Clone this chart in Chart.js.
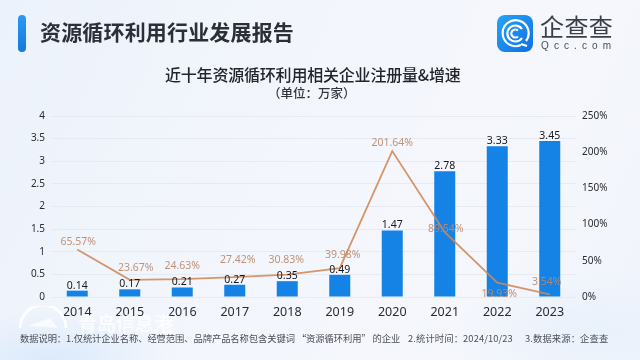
<!DOCTYPE html>
<html lang="zh"><head><meta charset="utf-8">
<script src="https://cdn.jsdelivr.net/npm/chart.js@4"></script>
<style>
html,body{margin:0;padding:0;width:640px;height:360px;overflow:hidden}
body{position:relative;font-family:"Noto Sans CJK SC",sans-serif;background:
 radial-gradient(ellipse 120px 50px at 50px 360px,#dbeafb 0%,rgba(219,234,251,0) 100%),
 radial-gradient(ellipse 150px 60px at 600px 330px,#e9f1fb 0%,rgba(233,241,251,0) 100%),
 linear-gradient(115deg,#ecf2fb 0%,#f3f6fc 45%,#f5f7fc 75%,#f0f4fb 100%)}
#wrap{position:absolute;left:0;top:0;width:640px;height:360px}
.t{position:absolute;white-space:nowrap;line-height:1}
.n{top:334px;font-size:9.3px;color:#4b4f57}
#bar{position:absolute;left:18px;top:15px;width:8px;height:37px;border-radius:4px;background:linear-gradient(#2a9af0,#1478e0)}
#logo{position:absolute;left:497px;top:15px;width:36px;height:37px;border-radius:8px;background:linear-gradient(135deg,#27a4f5,#0f6fe6)}
#wm{position:absolute;left:14px;top:306px;width:60px;height:28px}
</style></head><body>
<div id="wrap"><canvas id="c" width="640" height="360"></canvas></div>
<div id="bar"></div>
<div class="t" style="left:40px;top:21px;font-size:21px;font-weight:700;color:#2c2f36;letter-spacing:.17px">资源循环利用行业发展报告</div>
<svg id="logo" viewBox="0 0 36 37"><g fill="none" stroke="#fff" stroke-width="2.2"><path d="M29 26a13 13 0 1 0-5 4"/><path d="M25 14a8 8 0 1 0 0 9"/><path d="M21 15.5a4 4 0 1 0 0 6"/><path d="M24 29l6 2"/></g></svg>
<div class="t" style="left:540px;top:14px;font-size:24px;color:#3a3f48;letter-spacing:.4px">企查查</div>
<div class="t" style="left:541px;top:41px;font-size:10px;color:#4a4f58;letter-spacing:5.1px;font-family:'Liberation Sans'">Qcc.com</div>
<div class="t" style="left:165px;top:66px;font-size:16px;font-weight:500;color:#22252b;letter-spacing:-.2px">近十年资源循环利用相关企业注册量&amp;增速</div>
<div class="t" style="left:268px;top:87px;font-size:12.5px;font-weight:500;color:#33363c">（单位：万家）</div>
<div class="t n" style="left:20px;letter-spacing:-.08px">数据说明：1.仅统计企业名称、经营范围、品牌产品名称包含关键词 “资源循环利用” 的企业</div>
<div class="t n" style="left:408px;letter-spacing:.12px">2.统计时间：2024/10/23</div>
<div class="t n" style="left:525px;letter-spacing:.12px">3.数据来源：企查查</div>
<svg id="wm" viewBox="0 0 60 28"><g fill="none" stroke="rgba(255,255,255,.85)" stroke-width="3"><path d="M6 22a23 23 0 0 1 46 0"/><path d="M14 20l22-8 8 10z" fill="rgba(255,255,255,.7)" stroke="none"/></g></svg>
<div class="t" style="left:78px;top:313px;font-size:19px;font-weight:700;color:rgba(255,255,255,.72);font-family:'Noto Sans CJK SC'">青岛信息港</div>
<script>
const categories=['2014','2015','2016','2017','2018','2019','2020','2021','2022','2023'];
const registrations=[0.14,0.17,0.21,0.27,0.35,0.49,1.47,2.78,3.33,3.45];
const growth=[65.57,23.67,24.63,27.42,30.83,39.98,201.64,89.54,19.93,3.54];
const leftTicks=[0,0.5,1,1.5,2,2.5,3,3.5,4];
const rightTicks=[0,50,100,150,200,250];
const labelDx=[1,6,0,3,-1,3,0,1,2,-3];
const labelDy=[-8,-12,-13,-17,-15,-13,-8,-3,11,-12];
const valueLabels={id:'valueLabels',afterDatasetsDraw(ch){
  const g=ch.ctx;g.save();g.textAlign='center';g.textBaseline='middle';
  g.font='10.5px "Noto Sans", sans-serif';g.fillStyle='rgba(186,135,105,.9)';
  ch.getDatasetMeta(0).data.forEach((p,i)=>{g.fillText(growth[i].toFixed(2)+'%',p.x+labelDx[i],p.y+labelDy[i]);});
  g.fillStyle='#16181c';
  ch.getDatasetMeta(1).data.forEach((p,i)=>{g.fillText(registrations[i].toFixed(2),p.x,p.y-5);});
  g.restore();}};
new Chart(document.getElementById('c'),{
 data:{labels:categories,datasets:[
  {type:'line',yAxisID:'y2',data:growth,borderColor:'rgba(210,135,85,.88)',borderWidth:1.8,pointRadius:0,tension:0,order:1},
  {type:'bar',yAxisID:'y',data:registrations,backgroundColor:'#1583e6',barPercentage:.4,categoryPercentage:1,order:2}
 ]},
 plugins:[valueLabels],
 options:{responsive:false,animation:false,
  layout:{padding:{left:0,right:0,top:116,bottom:32}},
  plugins:{legend:{display:false},tooltip:{enabled:false}},
  scales:{
   x:{position:'bottom',grid:{display:false,drawTicks:false},border:{display:false},
      ticks:{color:'#2a2c31',font:{size:12.5,family:'"Noto Sans", sans-serif'},padding:8,maxRotation:0}},
   y:{position:'left',min:0,max:4,afterBuildTicks(a){a.ticks=leftTicks.map(v=>({value:v}))},
      afterFit(a){a.width=51},
      grid:{color:'#e6ebf3',lineWidth:1,drawTicks:false},border:{display:false},
      ticks:{color:'#2a2c31',font:{size:10,family:'"Noto Sans", sans-serif'},padding:6,callback:v=>String(v)}},
   y2:{position:'right',min:0,max:250,afterBuildTicks(a){a.ticks=rightTicks.map(v=>({value:v}))},
      afterFit(a){a.width=64},
      grid:{display:false,drawTicks:false},border:{display:false},
      ticks:{color:'#2a2c31',font:{size:10,family:'"Noto Sans", sans-serif'},padding:6,callback:v=>v+'%'}}
  }}
});
</script>
</body></html>
